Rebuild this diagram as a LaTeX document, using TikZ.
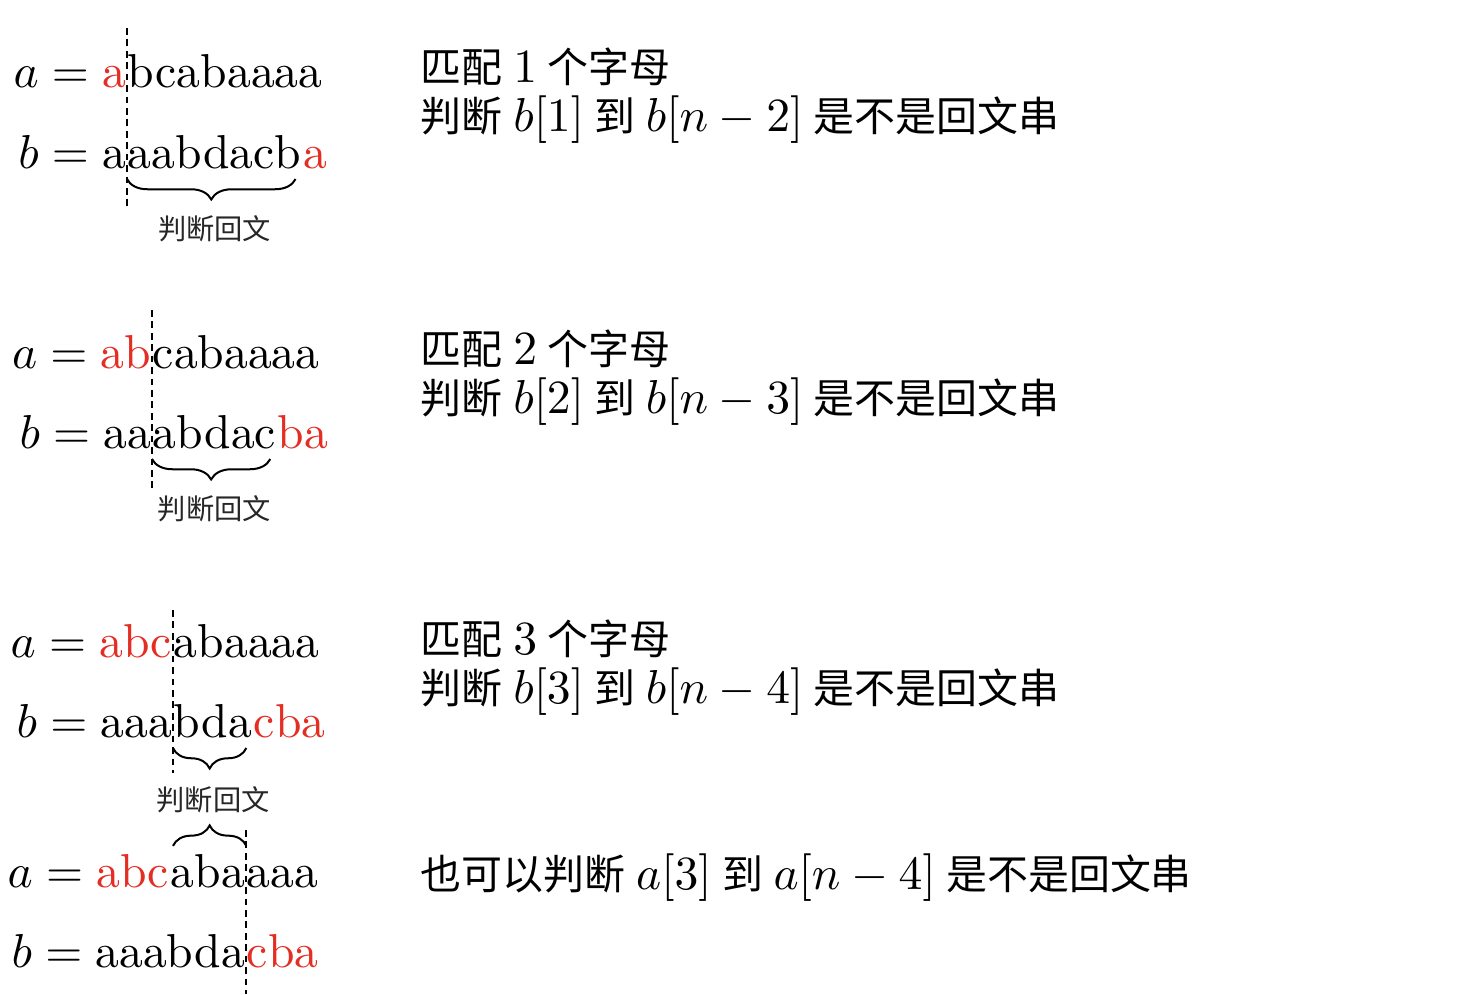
\documentclass[tikz,border=0pt]{standalone}
\usepackage{fontspec}
\newfontfamily\cjk[Scale=0.86]{Noto Sans CJK SC}
\usetikzlibrary{positioning,decorations.pathreplacing}
\definecolor{mred}{RGB}{228,46,36}
\newcommand\notegap{\spaceskip=2.2pt\relax}

\begin{document}
\begin{tikzpicture}[x=0.21pt,y=-0.21pt,
  row/.style={inner sep=0pt,font=\fontsize{10}{12}\selectfont},
  hl/.style={row,text=mred},
  cutline/.style={dash pattern=on 1.4pt off 1pt,line width=0.42pt},
  bracedown/.style={decorate,decoration={brace,mirror,amplitude=4.3pt},line width=0.42pt},
  braceup/.style={decorate,decoration={brace,amplitude=4.3pt},line width=0.42pt},
  tag/.style={inner sep=0pt,font=\cjk\fontsize{6.9}{8}\selectfont,text=black!85},
  note/.style={inner sep=0pt,anchor=base west,font=\fontsize{10}{12}\selectfont,execute at begin node=\notegap}
]
  \useasboundingbox (0,0) rectangle (1462,994);
  % Match 1
  \node[row,anchor=base east] (a1l) at (127,87) {$a={}$\textcolor{mred}{a}};
  \node[row,anchor=base west] (a1r) at (a1l.base east) {bcabaaaa};
  \node[row,anchor=base east] (b1l) at (127,168) {$b={}$a};
  \node[row,anchor=base west] (b1m) at (b1l.base east) {aabdacb};
  \node[hl,anchor=base west] (b1r) at (b1m.base east) {a};
  \draw[cutline] (a1l.east |- 0,28) -- (a1l.east |- 0,207);
  \draw[bracedown] ([yshift=-2pt]b1m.south west) -- ([xshift=-1.4pt,yshift=-2pt]b1m.south east);
  \node[tag,below=9.4pt of b1m] (t1) {判断回文};
  \node[note] (m1) at (420,82) {{\cjk 匹配} $1$ {\cjk 个字母}};
  \node[note] (j1) at (420,131) {{\cjk 判断} $b[1]$ {\cjk 到} $b[n-2]$ {\cjk 是不是回文串}};
  % Match 2
  \node[row,anchor=base east] (a2l) at (152,368) {$a={}$\textcolor{mred}{ab}};
  \node[row,anchor=base west] (a2r) at (a2l.base east) {cabaaaa};
  \node[row,anchor=base east] (b2l) at (152,448) {$b={}$aa};
  \node[row,anchor=base west] (b2m) at (b2l.base east) {abdac};
  \node[hl,anchor=base west] (b2r) at (b2m.base east) {ba};
  \draw[cutline] (a2l.east |- 0,310) -- (a2l.east |- 0,490);
  \draw[bracedown] ([yshift=-2pt]b2m.south west) -- ([xshift=-1.4pt,yshift=-2pt]b2m.south east);
  \node[tag,below=9.4pt of b2m] (t2) {判断回文};
  \node[note] (m2) at (420,364) {{\cjk 匹配} $2$ {\cjk 个字母}};
  \node[note] (j2) at (420,413) {{\cjk 判断} $b[2]$ {\cjk 到} $b[n-3]$ {\cjk 是不是回文串}};
  % Match 3
  \node[row,anchor=base east] (a3l) at (173,657) {$a={}$\textcolor{mred}{abc}};
  \node[row,anchor=base west] (a3r) at (a3l.base east) {abaaaa};
  \node[row,anchor=base east] (b3l) at (173,737) {$b={}$aaa};
  \node[row,anchor=base west] (b3m) at (b3l.base east) {bda};
  \node[hl,anchor=base west] (b3r) at (b3m.base east) {cba};
  \draw[cutline] (a3l.east |- 0,610) -- (a3l.east |- 0,773);
  \draw[bracedown] ([yshift=-2pt]b3m.south west) -- ([xshift=-1.4pt,yshift=-2pt]b3m.south east);
  \node[tag,below=9.8pt of b3m] (t3) {判断回文};
  \node[note] (m3) at (420,654) {{\cjk 匹配} $3$ {\cjk 个字母}};
  \node[note] (j3) at (420,703) {{\cjk 判断} $b[3]$ {\cjk 到} $b[n-4]$ {\cjk 是不是回文串}};
  % same check read on a
  \node[row,anchor=base east] (a4l) at (170,887) {$a={}$\textcolor{mred}{abc}};
  \node[row,anchor=base west] (a4m) at (a4l.base east) {aba};
  \node[row,anchor=base west] (a4r) at (a4m.base east) {aaa};
  \node[row,anchor=base east] (b4l) at (246,967) {$b={}$aaabda};
  \node[hl,anchor=base west] (b4r) at (b4l.base east) {cba};
  \draw[cutline] (b4l.east |- 0,830) -- (b4l.east |- 0,994);
  \draw[braceup] ([yshift=1.5pt]b3m.west |- a4m.north) -- ([xshift=-1.4pt,yshift=1.5pt]b3m.east |- a4m.north);
  \node[note] (j4) at (420,889) {{\cjk 也可以判断} $a[3]$ {\cjk 到} $a[n-4]$ {\cjk 是不是回文串}};
\end{tikzpicture}
\end{document}
